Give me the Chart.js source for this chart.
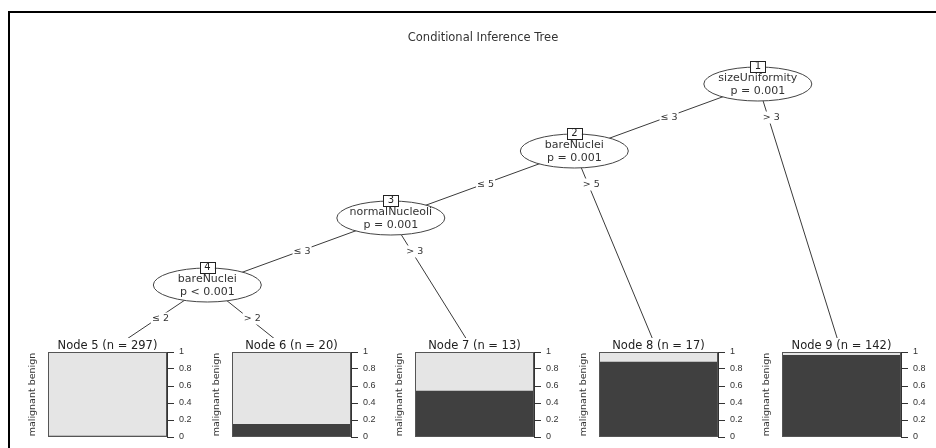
<!DOCTYPE html>
<html><head><meta charset="utf-8">
<script src="https://cdn.jsdelivr.net/npm/chart.js@4/dist/chart.umd.min.js"></script>
<style>
html,body{margin:0;padding:0;background:#fff;}
#wrap{position:relative;width:936px;height:448px;overflow:hidden;background:#fff;}
#frame{position:absolute;left:8px;top:11px;width:940px;height:450px;border-top:2px solid #000;border-left:2px solid #000;}
canvas{position:absolute;}
</style></head><body>
<div id="wrap">
<div id="frame"></div>
<canvas id="tree" width="936" height="448" style="left:0;top:0"></canvas>
</div>
<script>
// ---------------- data ----------------
const chartTitle = 'Conditional Inference Tree';
const innerIds = [1, 2, 3, 4];
const splitVars = ['sizeUniformity', 'bareNuclei', 'normalNucleoli', 'bareNuclei'];
const pLabels = ['p = 0.001', 'p = 0.001', 'p = 0.001', 'p < 0.001'];
const leftChild = [2, 3, 4, 5];
const rightChild = [9, 8, 7, 6];
const leftLabels = ['\u2264 3', '\u2264 5', '\u2264 3', '\u2264 2'];
const rightLabels = ['> 3', '> 5', '> 3', '> 2'];
const leafIds = [5, 6, 7, 8, 9];
const leafN = [297, 20, 13, 17, 142];
const malignant = [0.01, 0.15, 0.54, 0.88, 0.96];
const benign = [0.99, 0.85, 0.46, 0.12, 0.04];
const classNames = ['malignant', 'benign'];
const yTicks = [0, 0.2, 0.4, 0.6, 0.8, 1];
const yTickLabels = ['0', '0.2', '0.4', '0.6', '0.8', '1'];

// ---------------- layout from tree structure ----------------
const FONT = "'DejaVu Sans', Verdana, sans-serif";
const TICKFONT = "'Liberation Sans', Arial, Helvetica, sans-serif";
const LEAF_SHIFT = 0.044;   // leaf viewport centre lies slightly right of its bar box
const pos = {};
let leafCount = 0, maxInner = 0;
function place(id, depth) {
  if (leafIds.indexOf(id) >= 0) { leafCount++; pos[id] = { x: leafCount, d: depth, leaf: true }; return; }
  const k = innerIds.indexOf(id);
  maxInner = Math.max(maxInner, depth);
  place(leftChild[k], depth + 1);
  const split = leafCount;
  place(rightChild[k], depth + 1);
  pos[id] = { x: split + 0.5 + LEAF_SHIFT, d: depth, leaf: false };
}
place(innerIds[0], 0);
leafIds.forEach(id => { pos[id].d = maxInner + 1; });

// edges as line datasets
const edgeDatasets = [];
const edgeLabels = [];
innerIds.forEach((id, k) => {
  [[leftChild[k], leftLabels[k]], [rightChild[k], rightLabels[k]]].forEach(([c, lab]) => {
    const p = pos[id], q = pos[c];
    edgeDatasets.push({
      type: 'line', showLine: true, data: [{ x: p.x, y: p.d }, { x: q.x, y: q.d }],
      borderColor: '#3a3a3a', borderWidth: 1, pointRadius: 0, clip: false
    });
    const t = 0.5 / (q.d - p.d);
    edgeLabels.push({ x: p.x + (q.x - p.x) * t, y: p.d + 0.5, text: lab });
  });
});

const nodeDataset = {
  label: 'inner', data: innerIds.map(id => ({ x: pos[id].x, y: pos[id].d })),
  pointRadius: 0, showLine: false
};

const treePlugin = {
  id: 'treePlugin',
  afterDatasetsDraw(chart) {
    const ctx = chart.ctx, xs = chart.scales.x, ys = chart.scales.y;
    ctx.save();
    // edge labels
    ctx.font = '9.5px ' + FONT;
    ctx.textAlign = 'center'; ctx.textBaseline = 'middle';
    edgeLabels.forEach(l => {
      const px = xs.getPixelForValue(l.x) + 3, py = ys.getPixelForValue(l.y);
      const w = ctx.measureText(l.text).width + 2;
      ctx.fillStyle = '#fff'; ctx.fillRect(px - w / 2, py - 6, w, 12);
      ctx.fillStyle = '#333'; ctx.fillText(l.text, px, py);
    });
    // inner nodes
    const meta = chart.getDatasetMeta(chart.data.datasets.length - 1);
    meta.data.forEach((pt, k) => {
      const cx = pt.x, cy = pt.y, rx = 54, ry = 17;
      ctx.beginPath(); ctx.ellipse(cx, cy, rx, ry, 0, 0, Math.PI * 2);
      ctx.fillStyle = '#fff'; ctx.fill();
      ctx.strokeStyle = '#444'; ctx.lineWidth = 1; ctx.stroke();
      ctx.font = '11px ' + FONT; ctx.fillStyle = '#333';
      ctx.fillText(splitVars[k], cx, cy - 6);
      ctx.fillText(pLabels[k], cx, cy + 7);
      // id box
      const bw = 15, bh = 11, by = cy - 18;
      ctx.fillStyle = '#fff'; ctx.fillRect(cx - bw / 2, by - bh / 2, bw, bh);
      ctx.strokeStyle = '#222'; ctx.strokeRect(Math.round(cx - bw / 2) + 0.5, Math.round(by - bh / 2) + 0.5, bw, bh);
      ctx.fillStyle = '#222'; ctx.font = '10px ' + FONT;
      ctx.fillText(String(innerIds[k]), cx, by + 0.5);
    });
    ctx.restore();
  }
};

// pixel frame: chart area 30..936 wide, leaf spacing 183.5px; depth step 67px from y=84
const PADL = 30, TITLE_TOP = 31, TITLE_LH = 14;
const pxPerLeaf = 183.5, firstLeafPx = 107.5, depthStep = 67, rootPx = 84;
const xMin = 1 - (firstLeafPx - PADL) / pxPerLeaf;
const xMax = xMin + (936 - PADL) / pxPerLeaf;
const yMin = (TITLE_TOP + TITLE_LH - rootPx) / depthStep;
const yMax = (448 - rootPx) / depthStep;

const tree = new Chart(document.getElementById('tree'), {
  type: 'scatter',
  data: { datasets: [...edgeDatasets, nodeDataset] },
  options: {
    responsive: false, animation: false, events: [],
    layout: { padding: { left: PADL, right: 0, top: 0, bottom: 0 } },
    plugins: {
      legend: { display: false }, tooltip: { enabled: false },
      title: { display: true, text: chartTitle, color: '#333', font: { family: FONT, size: 11.5, weight: 'normal', lineHeight: TITLE_LH + 'px' }, padding: { top: TITLE_TOP, bottom: 0 } }
    },
    scales: {
      x: { type: 'linear', display: false, min: xMin, max: xMax },
      y: { type: 'linear', display: false, reverse: true, min: yMin, max: yMax }
    }
  },
  plugins: [treePlugin]
});

// ---------------- terminal panels ----------------
const wrap = document.getElementById('wrap');
const panelPlugin = {
  id: 'panelPlugin',
  beforeDraw(chart) {
    const ctx = chart.ctx, t = chart.options.plugins.title;
    ctx.save();
    ctx.font = '11.5px ' + FONT;
    const w = ctx.measureText(t.text).width + 4;
    ctx.fillStyle = '#fff';
    ctx.fillRect(chart.width / 2 - w / 2, 0, w, chart.chartArea.top);
    ctx.restore();
  },
  afterDatasetsDraw(chart) {
    const ctx = chart.ctx, a = chart.chartArea;
    ctx.save();
    ctx.strokeStyle = '#555'; ctx.lineWidth = 1;
    ctx.strokeRect(Math.round(a.left) + 0.5, Math.round(a.top) + 0.5, Math.round(a.right - a.left) - 1, Math.round(a.bottom - a.top) - 1);
    ctx.restore();
  }
};

function makePanel(i) {
  const id = leafIds[i];
  const cx = tree.scales.x.getPixelForValue(pos[id].x);
  const top = tree.scales.y.getPixelForValue(pos[id].d);
  const SIDE = 34, W = 119, H = 85, T = 14, B = 11;
  const c = document.createElement('canvas');
  c.width = SIDE * 2 + W; c.height = T + H + B;
  c.style.left = Math.round(cx - W / 2 - SIDE) + 'px';
  c.style.top = Math.round(top - T) + 'px';
  wrap.appendChild(c);
  new Chart(c, {
    type: 'bar',
    data: {
      labels: ['Node ' + id],
      datasets: [
        { label: classNames[0], data: [malignant[i]], backgroundColor: '#404040', yAxisID: 'y', barPercentage: 1, categoryPercentage: 1, borderWidth: 0 },
        { label: classNames[1], data: [benign[i]], backgroundColor: '#e5e5e5', yAxisID: 'y', barPercentage: 1, categoryPercentage: 1, borderWidth: 0 }
      ]
    },
    options: {
      responsive: false, animation: false, events: [],
      layout: { padding: { top: 0, bottom: B, left: 0, right: 0 } },
      plugins: {
        legend: { display: false }, tooltip: { enabled: false },
        title: { display: true, text: `Node ${id} (n = ${leafN[i]})`, color: '#222', font: { family: FONT, size: 11.5, weight: 'normal', lineHeight: '12px' }, padding: { top: 2, bottom: 0 } }
      },
      scales: {
        x: { display: false, stacked: true },
        y: {
          position: 'right', stacked: true, min: 0, max: 1,
          afterFit(s) { s.width = SIDE; },
          afterBuildTicks(s) { s.ticks = yTicks.map(v => ({ value: v })); },
          ticks: { padding: 5, color: '#333', font: { family: TICKFONT, size: 9 }, callback: (v) => yTickLabels[yTicks.indexOf(v)] },
          grid: { display: true, drawOnChartArea: false, drawTicks: true, tickLength: 7, color: '#333' },
          border: { display: true, color: '#333' }
        },
        yl: {
          position: 'left', min: 0, max: 1,
          afterFit(s) { s.width = SIDE; },
          ticks: { display: false }, grid: { display: false }, border: { display: false },
          title: { display: true, text: classNames.join(' '), color: '#333', font: { family: FONT, size: 9.5 }, padding: { top: 13, bottom: 0 } }
        }
      }
    },
    plugins: [panelPlugin]
  });
}
leafIds.forEach((id, i) => makePanel(i));
</script>
</body></html>
